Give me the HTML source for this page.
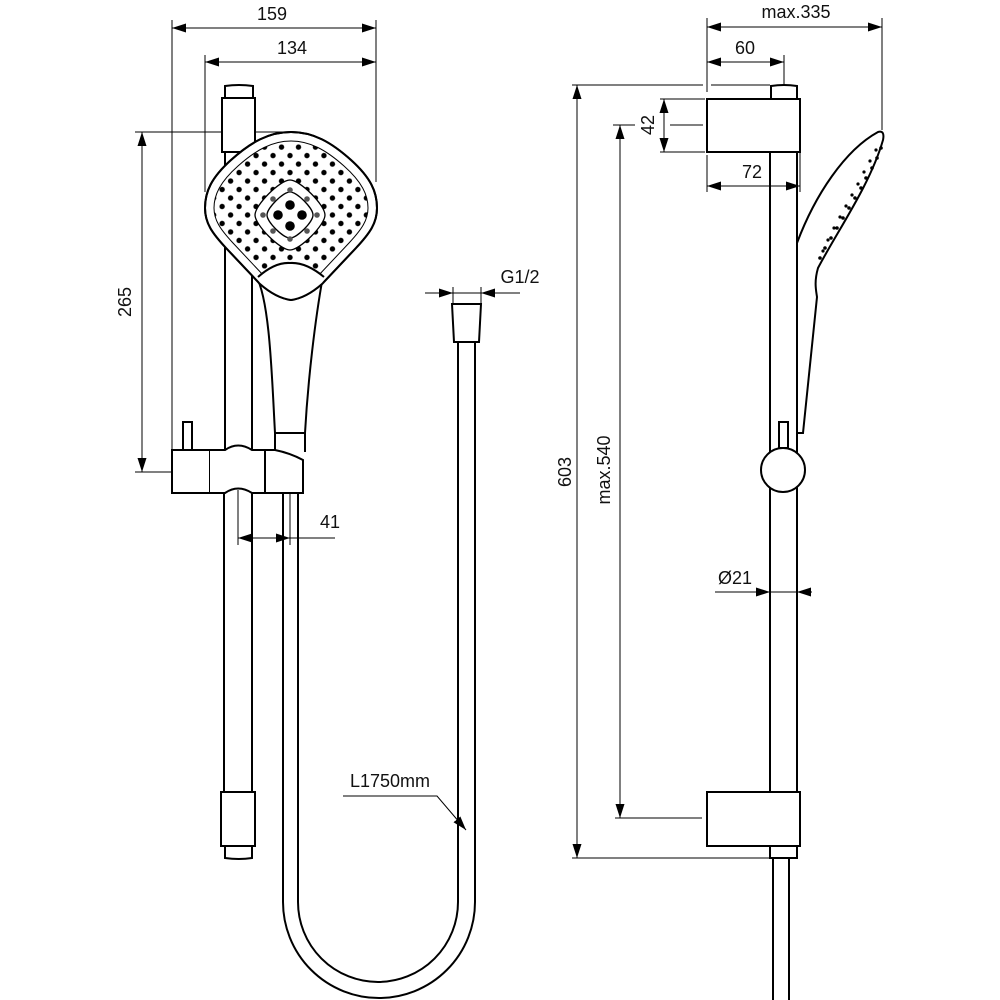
<!DOCTYPE html>
<html><head><meta charset="utf-8"><style>
html,body{margin:0;padding:0;background:#fff}
svg{display:block}
text{font-family:"Liberation Sans",sans-serif;font-size:18px;fill:#111}
</style></head><body>
<svg width="1000" height="1000" viewBox="0 0 1000 1000" xmlns="http://www.w3.org/2000/svg">
<defs>
<marker id="a" viewBox="0 0 14 9" refX="14" refY="4.5" markerWidth="14" markerHeight="9" markerUnits="userSpaceOnUse" orient="auto-start-reverse"><path d="M0,0 L14,4.5 L0,9 Z" fill="#000"/></marker>
<pattern id="dots" width="12" height="12" patternUnits="userSpaceOnUse" patternTransform="translate(290,215) rotate(45)"><circle cx="6" cy="6" r="2.7" fill="#000"/></pattern>
<clipPath id="hc"><path d="M291,141 C310,141 326,150 344,166 C362,182 368,195 368,208 C368,220 362,229 349,243 L318,276 Q291,298 264,276 L233,243 C220,229 214,220 214,208 C214,195 220,182 238,166 C256,150 272,141 291,141 Z"/></clipPath>
</defs>
<g fill="none" stroke="#000" stroke-width="1">
<line x1="172" y1="20" x2="172" y2="472"/>
<line x1="376" y1="20" x2="376" y2="182"/>
<line x1="205" y1="55" x2="205" y2="192"/>
<line x1="172" y1="28" x2="376" y2="28" marker-start="url(#a)" marker-end="url(#a)"/>
<line x1="205" y1="62" x2="376" y2="62" marker-start="url(#a)" marker-end="url(#a)"/>
<line x1="135" y1="132" x2="290" y2="132"/>
<line x1="135" y1="472" x2="172" y2="472"/>
<line x1="142" y1="132" x2="142" y2="472" marker-start="url(#a)" marker-end="url(#a)"/>
<line x1="238" y1="490" x2="238" y2="545"/>
<line x1="290" y1="490" x2="290" y2="545"/>
<line x1="238" y1="538" x2="335" y2="538"/>
<line x1="252" y1="538" x2="238" y2="538" marker-end="url(#a)"/>
<line x1="276" y1="538" x2="290" y2="538" marker-end="url(#a)"/>
</g>
<g fill="none" stroke="#000" stroke-width="2">
<path d="M225,98 L225,86 Q239,84 253,86 L253,98"/>
<rect x="222" y="98" width="33" height="54" fill="#fff"/>
<line x1="225" y1="152" x2="225" y2="450"/>
<line x1="252" y1="152" x2="252" y2="450"/>
<line x1="224" y1="493" x2="224" y2="792"/>
<line x1="252" y1="493" x2="252" y2="792"/>
<rect x="221" y="792" width="34" height="54"/>
<path d="M225,846 L225,858 Q239,860 252,858 L252,846"/>
<path d="M283,493 L283,902 A96,96 0 0 0 475,902 L475,342"/>
<path d="M298,493 L298,902 A80,80 0 0 0 458,902 L458,342"/>
<path d="M452,304 L481,304 L479,342 L454,342 Z" fill="#fff"/>
<path d="M256,276 C270,300 272,380 275,433 L305,433 C308,380 315,320 323,276" fill="#fff"/>
<path d="M275,433 L275,452 M305,433 L305,452"/>
<path d="M291,132 C313,132 331,142 351,160 C371,178 377,192 377,208 C377,223 370,233 356,248 L322,284 Q306,298 291,300 Q276,298 260,284 L226,248 C212,233 205,223 205,208 C205,192 211,178 231,160 C251,142 269,132 291,132 Z" fill="#fff"/>
</g>
<path d="M291,141 C310,141 326,150 344,166 C362,182 368,195 368,208 C368,220 362,229 349,243 L318,276 Q291,298 264,276 L233,243 C220,229 214,220 214,208 C214,195 220,182 238,166 C256,150 272,141 291,141 Z" fill="none" stroke="#000" stroke-width="1"/>
<g clip-path="url(#hc)"><rect x="200" y="130" width="180" height="170" fill="url(#dots)"/></g>
<path d="M290,180 C300,180 325,205 325,215 C325,225 300,250 290,250 C280,250 255,225 255,215 C255,205 280,180 290,180 Z" fill="#fff" stroke="#000" stroke-width="1.3"/>
<path d="M290,192 C297,192 313,208 313,215 C313,222 297,238 290,238 C283,238 267,222 267,215 C267,208 283,192 290,192 Z" fill="none" stroke="#000" stroke-width="1.3"/>
<g fill="#000"><circle cx="290" cy="205" r="4.8"/><circle cx="278" cy="215" r="4.8"/><circle cx="302" cy="215" r="4.8"/><circle cx="290" cy="226" r="4.8"/></g>
<g fill="#555"><circle cx="290" cy="190" r="2.8"/><circle cx="263" cy="215" r="2.8"/><circle cx="317" cy="215" r="2.8"/><circle cx="290" cy="239" r="2.8"/><circle cx="273" cy="199" r="2.8"/><circle cx="307" cy="199" r="2.8"/><circle cx="273" cy="231" r="2.8"/><circle cx="307" cy="231" r="2.8"/></g>
<path d="M258,277 Q275,262 290,263 Q306,262 324,277 L322,284 Q306,298 291,300 Q276,298 260,284 Z" fill="#fff" stroke="none"/>
<path d="M258,277 Q275,262 290,263 Q306,262 324,277" fill="none" stroke="#000" stroke-width="2"/>
<path d="M291,132 C313,132 331,142 351,160 C371,178 377,192 377,208 C377,223 370,233 356,248 L322,284 Q306,298 291,300 Q276,298 260,284 L226,248 C212,233 205,223 205,208 C205,192 211,178 231,160 C251,142 269,132 291,132 Z" fill="none" stroke="#000" stroke-width="2"/>
<g fill="#fff" stroke="#000" stroke-width="2">
<rect x="183" y="422" width="9" height="28"/>
<path d="M172,450 L210,450 L210,493 L172,493 Z"/>
<path d="M210,450 L225,450 Q238,441 252,450 L265,450 L265,493 L252,493 Q238,484 225,493 L210,493"/>
<path d="M265,450 L275,450 Q290,453 303,460 L303,493 L298,493 L283,493 L265,493 Z"/>
</g>
<g fill="none" stroke="#000" stroke-width="1">
<line x1="453" y1="287" x2="453" y2="304"/><line x1="481" y1="287" x2="481" y2="304"/>
<line x1="425" y1="293" x2="453" y2="293" marker-end="url(#a)"/>
<line x1="520" y1="293" x2="481" y2="293" marker-end="url(#a)"/>
<line x1="453" y1="293" x2="481" y2="293"/>
<path d="M343,796 L437,796 L466,830" marker-end="url(#a)"/>
<line x1="707" y1="18" x2="707" y2="92"/>
<line x1="707" y1="155" x2="707" y2="192"/>
<line x1="882" y1="18" x2="882" y2="130"/>
<line x1="784" y1="55" x2="784" y2="85"/>
<line x1="800" y1="152" x2="800" y2="192"/>
<line x1="707" y1="27" x2="882" y2="27" marker-start="url(#a)" marker-end="url(#a)"/>
<line x1="707" y1="62" x2="784" y2="62" marker-start="url(#a)" marker-end="url(#a)"/>
<line x1="707" y1="186" x2="800" y2="186" marker-start="url(#a)" marker-end="url(#a)"/>
<line x1="660" y1="99" x2="705" y2="99"/><line x1="660" y1="152" x2="705" y2="152"/>
<line x1="664" y1="99" x2="664" y2="152" marker-start="url(#a)" marker-end="url(#a)"/>
<line x1="613" y1="125" x2="635" y2="125"/><line x1="670" y1="125" x2="703" y2="125"/>
<line x1="572" y1="85" x2="703" y2="85"/><line x1="711" y1="85" x2="770" y2="85"/>
<line x1="572" y1="858" x2="770" y2="858"/>
<line x1="577" y1="85" x2="577" y2="858" marker-start="url(#a)" marker-end="url(#a)"/>
<line x1="615" y1="818" x2="702" y2="818"/>
<line x1="620" y1="125" x2="620" y2="818" marker-start="url(#a)" marker-end="url(#a)"/>
<line x1="715" y1="592" x2="770" y2="592" marker-end="url(#a)"/>
<line x1="812" y1="592" x2="797" y2="592" marker-end="url(#a)"/>
<line x1="770" y1="592" x2="797" y2="592"/>
</g>
<g fill="none" stroke="#000" stroke-width="2">
<path d="M771,99 L771,86 Q784,84 797,86 L797,99"/>
<rect x="707" y="99" width="93" height="53" fill="#fff"/>
<line x1="770" y1="152" x2="770" y2="792"/>
<line x1="797" y1="152" x2="797" y2="792"/>
<rect x="707" y="792" width="93" height="54" fill="#fff"/>
<rect x="770" y="846" width="27" height="12"/>
<line x1="773" y1="858" x2="773" y2="1000"/><line x1="789" y1="858" x2="789" y2="1000"/>
<path d="M797,243 C815,195 845,150 878,132 Q885,130 883,140 C870,185 838,230 818,268 C814,282 816,290 817,297 L803,433 L797,433"/>
<rect x="779" y="422" width="9" height="26" fill="#fff"/>
<circle cx="783" cy="470" r="22" fill="#fff"/>
</g>
<g fill="#000">
<circle cx="881" cy="148" r="1.8"/><circle cx="877" cy="158" r="1.8"/><circle cx="872" cy="168" r="1.8"/><circle cx="866" cy="178" r="1.8"/><circle cx="861" cy="188" r="1.8"/><circle cx="855" cy="198" r="1.8"/><circle cx="849" cy="208" r="1.8"/><circle cx="843" cy="218" r="1.8"/><circle cx="837" cy="228" r="1.8"/><circle cx="831" cy="238" r="1.8"/><circle cx="825" cy="248" r="1.8"/><circle cx="820" cy="258" r="1.8"/>
<circle cx="876" cy="150" r="1.6"/><circle cx="870" cy="161" r="1.6"/><circle cx="864" cy="172" r="1.6"/><circle cx="858" cy="184" r="1.6"/><circle cx="852" cy="195" r="1.6"/><circle cx="846" cy="206" r="1.6"/><circle cx="840" cy="217" r="1.6"/><circle cx="834" cy="228" r="1.6"/><circle cx="828" cy="240" r="1.6"/><circle cx="823" cy="251" r="1.6"/>
</g>
<text x="272" y="20" text-anchor="middle">159</text>
<text x="292" y="54" text-anchor="middle">134</text>
<text transform="translate(131,302) rotate(-90)" text-anchor="middle">265</text>
<text x="330" y="528" text-anchor="middle">41</text>
<text x="520" y="283" text-anchor="middle">G1/2</text>
<text x="390" y="787" text-anchor="middle">L1750mm</text>
<text x="796" y="18" text-anchor="middle">max.335</text>
<text x="745" y="54" text-anchor="middle">60</text>
<text transform="translate(654,125) rotate(-90)" text-anchor="middle">42</text>
<text x="752" y="178" text-anchor="middle">72</text>
<text transform="translate(571,472) rotate(-90)" text-anchor="middle">603</text>
<text transform="translate(610,470) rotate(-90)" text-anchor="middle">max.540</text>
<text x="735" y="584" text-anchor="middle">Ø21</text>
</svg>
</body></html>
